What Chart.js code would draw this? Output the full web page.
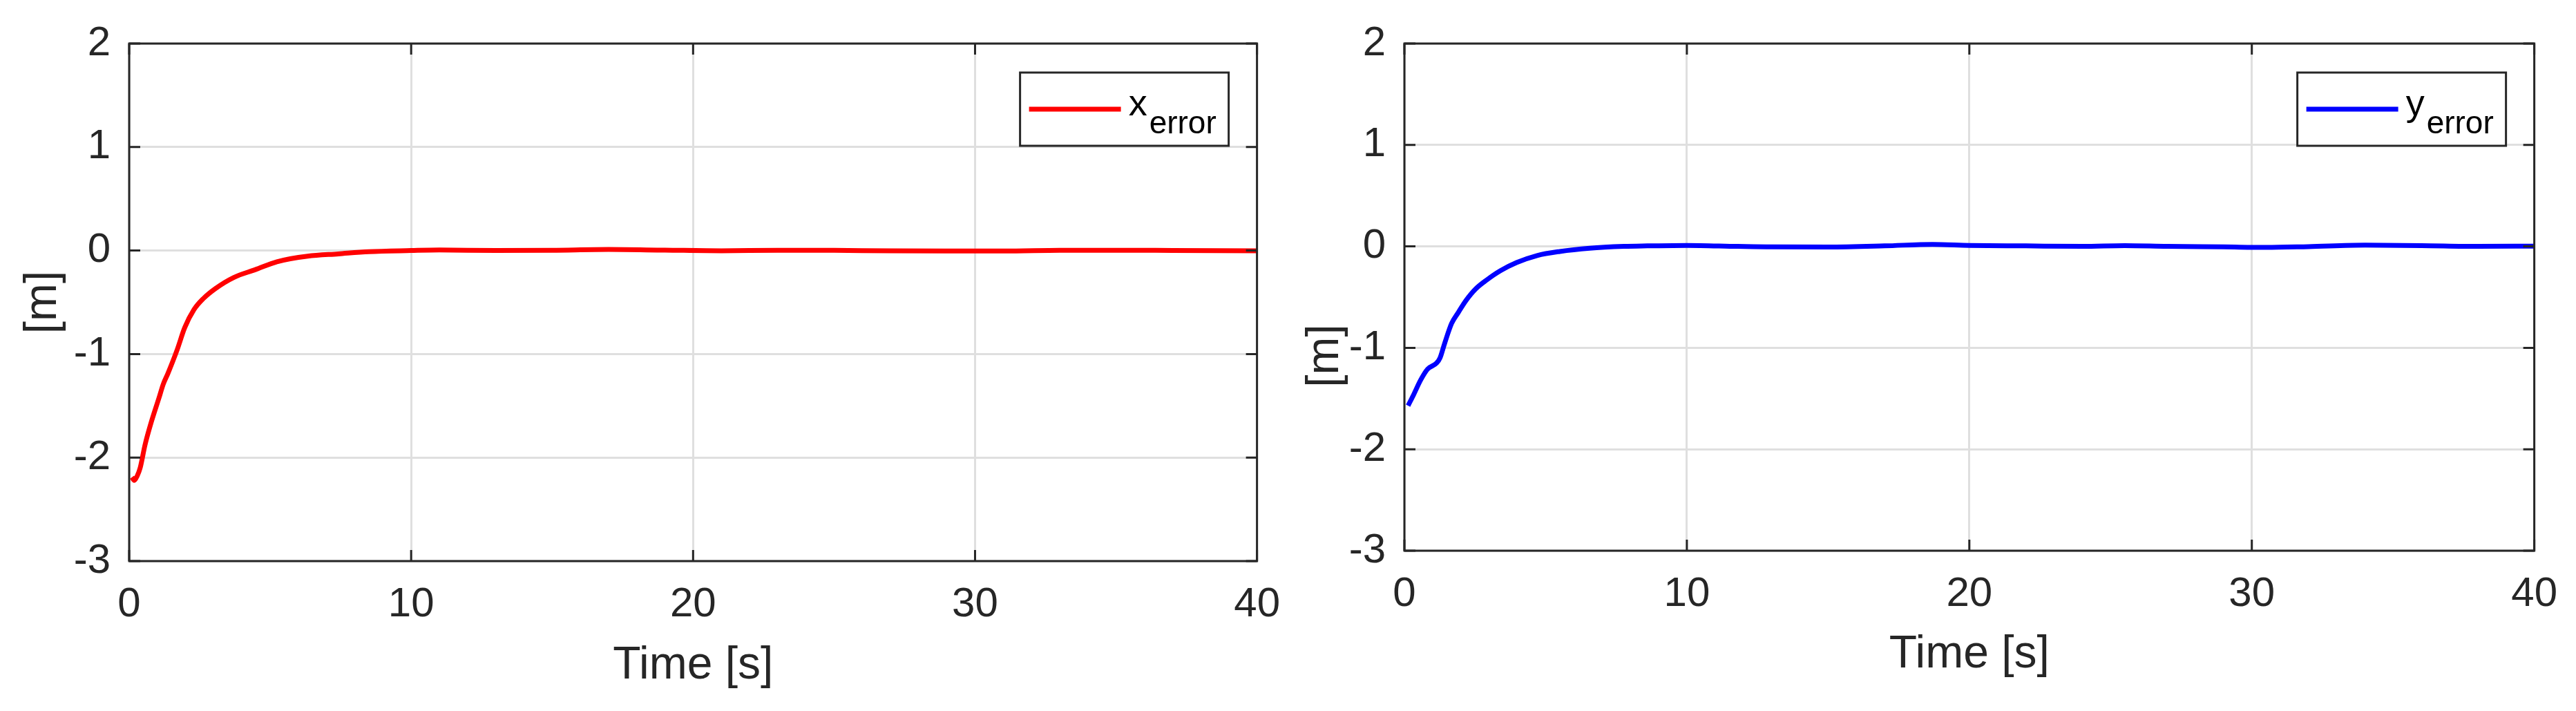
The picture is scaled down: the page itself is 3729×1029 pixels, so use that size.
<!DOCTYPE html>
<html>
<head>
<meta charset="utf-8">
<script src="https://cdn.jsdelivr.net/npm/chart.js@4.4.1/dist/chart.umd.min.js"></script>
<style>
  html, body { margin: 0; padding: 0; background: #fff; }
  body { width: 3729px; height: 1029px; position: relative; overflow: hidden; }
  canvas { position: absolute; top: 0; }
  #xChart { left: 0; }
  #yChart { left: 1850px; }
</style>
</head>
<body>
<canvas id="xChart" width="1880" height="1029"></canvas>
<canvas id="yChart" width="1879" height="1029"></canvas>
<script>
// time axis and error axis limits
const timeRange = [0, 40];
const errorRange = [-3, 2];

// x error (left panel)
const xTime  = [0.1, 0.18, 0.28, 0.39, 0.56, 0.77, 1.05, 1.21, 1.37, 1.7, 1.97, 2.3, 2.63, 3.06, 3.71, 4.48, 5.24, 6.33, 7.42, 8.5, 10, 11, 13, 15, 17, 19, 21, 23, 25, 27, 29, 31, 33, 35, 37, 40];
const xError = [-2.19, -2.22, -2.18, -2.1, -1.88, -1.67, -1.43, -1.29, -1.19, -0.96, -0.745, -0.57, -0.464, -0.367, -0.26, -0.184, -0.108, -0.054, -0.032, -0.011, 0, 0.005, 0, 0.003, 0.01, 0.004, -0.002, 0.003, 0.002, -0.003, -0.004, -0.005, 0.002, 0.003, 0.001, -0.002];

// y error (right panel)
const yTime  = [0.13, 0.33, 0.57, 0.82, 1.14, 1.26, 1.42, 1.67, 1.91, 2.19, 2.52, 2.92, 3.4, 3.97, 4.7, 5.5, 6.56, 7.77, 8.6, 10, 11.8, 13, 15, 17, 18.7, 20, 22, 24, 25.5, 27, 29, 30.5, 32, 34, 36, 38, 40];
const yError = [-1.57, -1.46, -1.32, -1.21, -1.15, -1.1, -0.96, -0.76, -0.65, -0.53, -0.42, -0.33, -0.24, -0.16, -0.09, -0.05, -0.018, 0, 0.005, 0.01, 0, -0.005, -0.006, 0.005, 0.02, 0.01, 0.005, 0, 0.008, 0, -0.005, -0.01, -0.002, 0.012, 0.008, 0, 0.003];

Chart.defaults.font.family = '"Liberation Sans", Arial, sans-serif';
Chart.defaults.color = '#262626';

const axisColor = '#262626';

// MATLAB style box with inward ticks on all four sides
const boxFrame = {
  id: 'boxFrame',
  afterDatasetsDraw(chart) {
    const { ctx, chartArea: a, scales } = chart;
    const len = 16;
    ctx.save();
    ctx.strokeStyle = axisColor;
    ctx.lineWidth = 3;
    ctx.beginPath();
    scales.x.ticks.forEach(t => {
      const px = scales.x.getPixelForValue(t.value);
      ctx.moveTo(px, a.bottom); ctx.lineTo(px, a.bottom - len);
      ctx.moveTo(px, a.top); ctx.lineTo(px, a.top + len);
    });
    scales.y.ticks.forEach(t => {
      const py = scales.y.getPixelForValue(t.value);
      ctx.moveTo(a.left, py); ctx.lineTo(a.left + len, py);
      ctx.moveTo(a.right, py); ctx.lineTo(a.right - len, py);
    });
    ctx.stroke();
    ctx.strokeRect(a.left, a.top, a.right - a.left, a.bottom - a.top);
    ctx.restore();
  }
};

// rotated y label, placed like the figure's own ylabel
const yLabel = {
  id: 'yLabel',
  afterDraw(chart, args, opts) {
    const { ctx, chartArea: a } = chart;
    ctx.save();
    ctx.translate(a.left - opts.dx, (a.top + a.bottom) / 2 + opts.dy);
    ctx.rotate(-Math.PI / 2);
    ctx.fillStyle = axisColor;
    ctx.textAlign = 'center';
    ctx.textBaseline = 'middle';
    ctx.font = '66px "Liberation Sans", Arial, sans-serif';
    ctx.fillText(opts.text, 0, 0);
    ctx.restore();
  }
};

// legend with subscript text
const legendBox = {
  id: 'legendBox',
  afterDraw(chart, args, opts) {
    const { ctx, chartArea } = chart;
    const ds = chart.data.datasets[0];
    const w = 302, h = 106;
    const left = chartArea.right - 41 - w;
    const top = chartArea.top + 42;
    ctx.save();
    ctx.fillStyle = '#fff';
    ctx.fillRect(left, top, w, h);
    ctx.strokeStyle = axisColor;
    ctx.lineWidth = 3;
    ctx.strokeRect(left, top, w, h);
    ctx.strokeStyle = ds.borderColor;
    ctx.lineWidth = 7;
    ctx.beginPath();
    ctx.moveTo(left + 13, top + 53);
    ctx.lineTo(left + 146, top + 53);
    ctx.stroke();
    ctx.fillStyle = '#000';
    ctx.textAlign = 'left';
    ctx.textBaseline = 'alphabetic';
    ctx.font = '54px "Liberation Sans", Arial, sans-serif';
    ctx.fillText(opts.base, left + 157, top + 62);
    const bw = ctx.measureText(opts.base).width;
    ctx.font = '46px "Liberation Sans", Arial, sans-serif';
    ctx.fillText(opts.sub, left + 157 + bw + 3, top + 88);
    ctx.restore();
  }
};

function makeChart(id, times, values, color, name, sub, dims) {
  const points = times.map((t, i) => ({ x: t, y: values[i] }));
  return new Chart(document.getElementById(id), {
    type: 'line',
    data: {
      datasets: [{
        label: name + '_' + sub,
        data: points,
        borderColor: color,
        backgroundColor: color,
        borderWidth: 7,
        pointRadius: 0,
        cubicInterpolationMode: 'monotone',
        fill: false
      }]
    },
    options: {
      responsive: false,
      animation: false,
      layout: { padding: { top: dims.top, right: dims.right, bottom: 0, left: 0 } },
      plugins: {
        legend: { display: false },
        tooltip: { enabled: false },
        legendBox: { base: name, sub: sub },
        yLabel: { text: '[m]', dx: dims.labelDx, dy: dims.labelDy }
      },
      scales: {
        x: {
          type: 'linear',
          min: timeRange[0],
          max: timeRange[1],
          afterFit: s => { s.height = dims.xHeight; },
          ticks: { stepSize: 10, padding: 27, font: { size: 60 }, color: axisColor, maxRotation: 0 },
          grid: { color: '#dfdfdf', lineWidth: 3, drawTicks: false },
          border: { display: false },
          title: { display: true, text: 'Time [s]', font: { size: 66 }, color: axisColor, padding: { top: 0, bottom: dims.xTitlePad } }
        },
        y: {
          type: 'linear',
          min: errorRange[0],
          max: errorRange[1],
          afterFit: s => { s.width = dims.yWidth; },
          ticks: { stepSize: 1, padding: 27, font: { size: 60 }, color: axisColor },
          grid: { color: '#dfdfdf', lineWidth: 3, drawTicks: false },
          border: { display: false }
        }
      }
    },
    plugins: [boxFrame, legendBox, yLabel]
  });
}

makeChart('xChart', xTime, xError, '#ff0000', 'x', 'error',
  { top: 43, right: 53, xHeight: 217, yWidth: 187, xTitlePad: 26, labelDx: 124, labelDy: 0 });
makeChart('yChart', yTime, yError, '#0000ff', 'y', 'error',
  { top: 45, right: 48, xHeight: 232, yWidth: 183, xTitlePad: 42, labelDx: 114, labelDy: 85 });
</script>
</body>
</html>
